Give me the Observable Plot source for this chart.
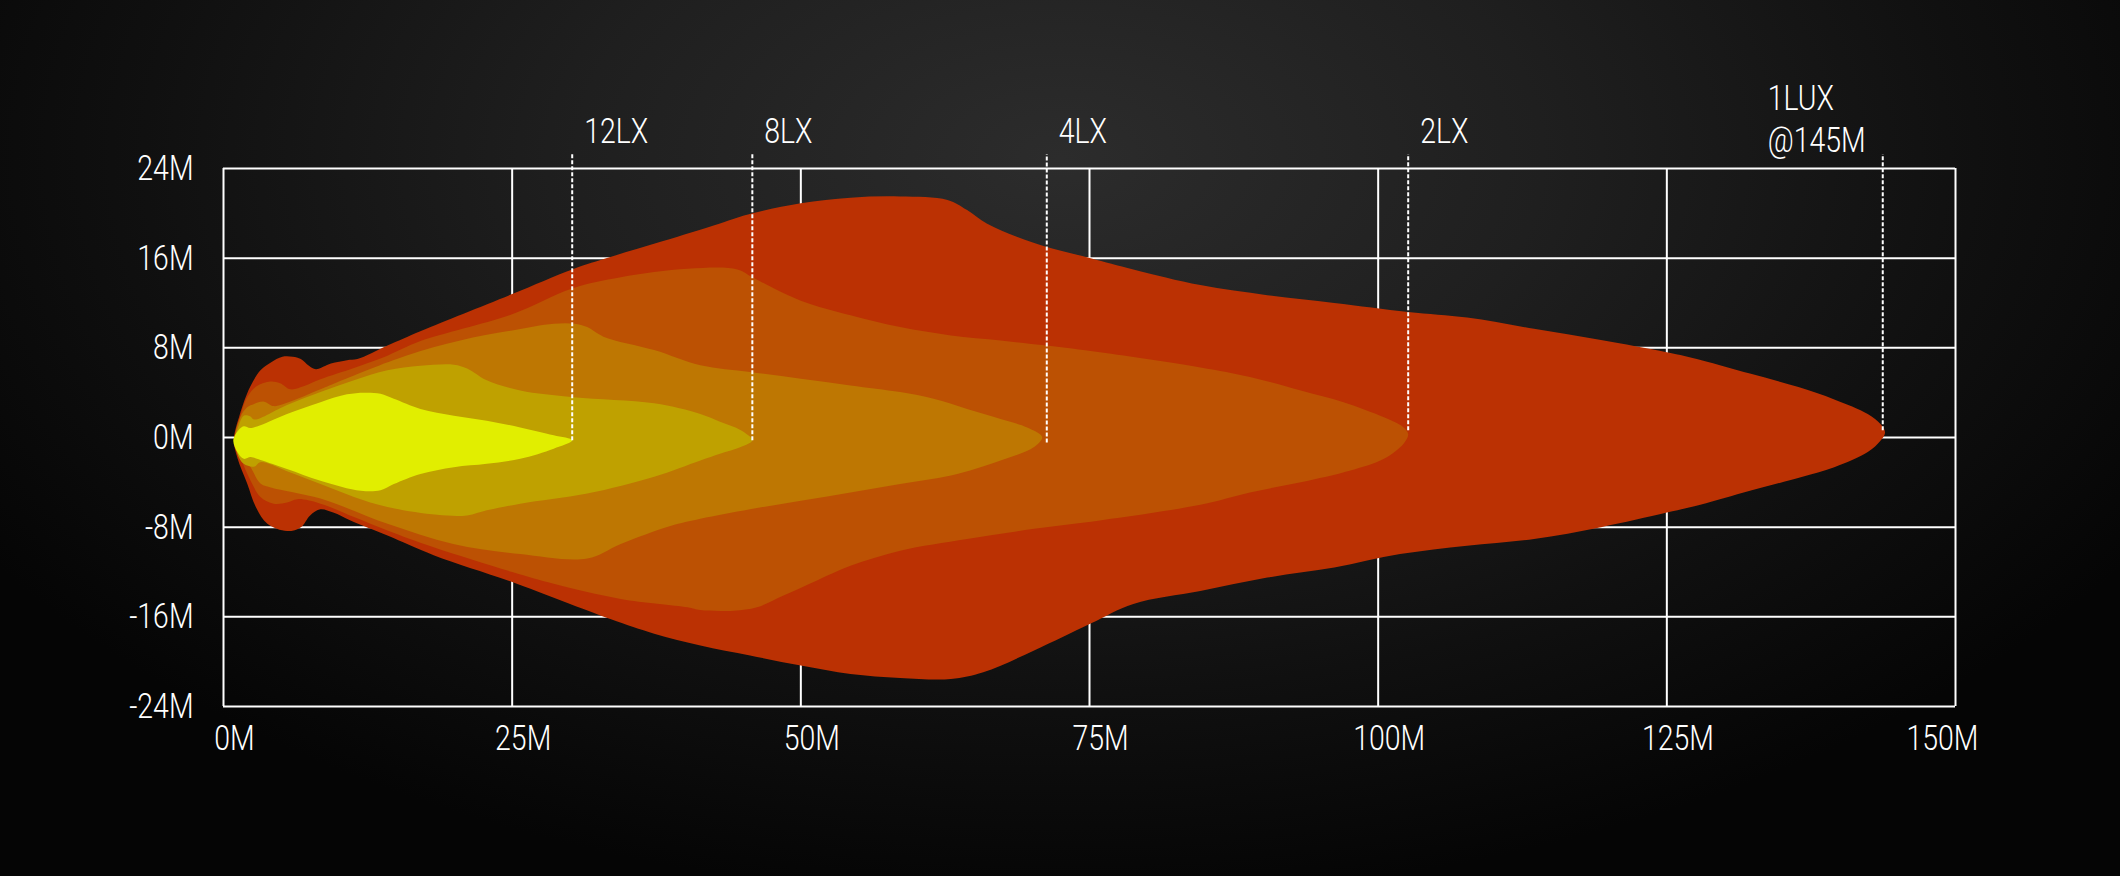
<!DOCTYPE html>
<html><head><meta charset="utf-8">
<script src="https://cdn.jsdelivr.net/npm/d3@7"></script>
<script src="https://cdn.jsdelivr.net/npm/@observablehq/plot@0.6"></script>
<style>
html,body{margin:0;padding:0;width:2120px;height:876px;overflow:hidden;
background: radial-gradient(ellipse 60% 85% at 50% 18%, #2c2c2c 0%, #1f1f1f 38%, #101010 72%, #050505 100%);}
#chart svg{display:block}
</style></head><body><div id="chart"></div>
<script>
// axis ticks (metres)
const xTicks = [0, 25, 50, 75, 100, 125, 150];
const yTicks = [-24, -16, -8, 0, 8, 16, 24];

// isolux level markers
const levelLabels = ["12LX", "8LX", "4LX", "2LX"];
const levelReach  = [30.2, 45.8, 71.3, 102.6];
const levelTipY   = [-0.3, -0.3, -0.5, 0.6];
const maxLabel = "1LUX\n@145M";
const maxReach = 143.7;
const maxTipY = 0.6;
const dashTop = 25.25;

// contour outlines [distance M, lateral M]
const beam1lx = [[0.9,-0.2],[1.4,2.0],[2.3,4.5],[3.2,6.0],[4.1,6.7],[5.1,7.2],[6.0,7.2],[6.7,7.0],[7.4,6.4],[8.0,6.1],[9.3,6.6],[10.7,6.9],[11.6,7.0],[14.2,8.2],[17.1,9.5],[25.0,12.8],[30.2,15.0],[33.5,16.1],[38.0,17.5],[43.0,19.1],[45.8,20.0],[50.0,20.9],[54.3,21.4],[58.6,21.5],[62.7,21.2],[64.4,20.3],[66.1,19.1],[68.7,17.9],[71.3,17.0],[75.1,16.0],[78.8,15.0],[84.6,13.6],[90.4,12.7],[96.2,12.0],[102.6,11.2],[107.7,10.7],[113.5,9.7],[119.3,8.7],[125.0,7.6],[128.0,6.9],[132.2,5.7],[136.4,4.5],[139.5,3.4],[142.4,2.1],[143.5,1.2],[143.9,0.45],[143.5,-0.3],[142.4,-1.3],[139.5,-2.65],[136.6,-3.55],[132.2,-4.75],[127.9,-6.0],[125.0,-6.7],[119.3,-8.0],[113.5,-9.05],[107.7,-9.65],[101.9,-10.4],[96.2,-11.6],[90.4,-12.5],[84.6,-13.7],[78.8,-14.85],[75.1,-16.6],[70.2,-19.0],[65.8,-20.95],[63.0,-21.55],[58.6,-21.45],[54.3,-21.1],[50.0,-20.35],[45.6,-19.45],[41.3,-18.55],[37.3,-17.5],[33.5,-16.2],[25.0,-12.9],[18.2,-10.5],[14.2,-8.75],[11.0,-7.4],[9.5,-6.7],[8.4,-6.4],[7.5,-6.95],[6.7,-8.0],[5.5,-8.35],[3.8,-7.7],[2.8,-6.2],[2.05,-4.1],[1.2,-1.8]];
const beam2lx = [[0.95,-0.2],[1.35,1.5],[2.05,3.6],[2.9,4.6],[4.05,5.0],[4.9,4.85],[5.8,4.3],[7.0,4.6],[8.4,5.2],[11.3,6.2],[14.2,7.3],[17.06,8.6],[25.0,11.0],[30.2,13.3],[34.4,14.3],[40.2,15.05],[44.5,15.0],[45.8,14.3],[47.1,13.6],[50.0,12.2],[54.3,10.9],[58.6,9.85],[63.0,9.1],[67.3,8.65],[71.3,8.2],[75.9,7.6],[84.6,6.25],[88.9,5.4],[93.3,4.2],[97.0,3.15],[100.5,1.8],[102.2,0.9],[102.6,0.3],[102.2,-0.55],[100.5,-1.9],[97.6,-2.95],[93.3,-4.0],[88.9,-4.9],[84.6,-6.0],[75.9,-7.4],[70.2,-8.15],[64.4,-9.05],[58.6,-10.1],[54.3,-11.45],[51.4,-12.75],[48.5,-14.1],[46.2,-15.15],[44.2,-15.45],[41.3,-15.4],[40.2,-15.15],[34.4,-14.4],[28.6,-13.05],[25.0,-12.0],[18.2,-9.8],[14.2,-8.3],[11.3,-7.1],[8.4,-5.9],[6.4,-5.5],[5.5,-5.8],[4.35,-5.9],[3.2,-5.3],[2.35,-3.85],[1.45,-1.75]];
const beam4lx = [[1.0,-0.2],[1.45,1.8],[2.05,2.7],[2.65,3.0],[3.5,3.2],[4.35,2.8],[5.5,3.1],[8.4,4.3],[10.0,5.0],[15.8,7.3],[20.5,8.66],[25.0,9.55],[28.6,10.15],[30.4,10.15],[31.5,9.85],[32.9,9.0],[37.3,7.8],[41.3,6.45],[45.6,5.85],[50.0,5.25],[54.3,4.65],[58.6,4.05],[61.5,3.45],[64.4,2.55],[67.3,1.65],[69.6,0.9],[70.9,0.05],[70.2,-0.85],[67.3,-2.05],[63.0,-3.4],[58.6,-4.15],[54.3,-4.9],[50.0,-5.65],[45.6,-6.4],[41.3,-7.25],[38.7,-7.9],[34.4,-9.5],[31.5,-10.8],[25.7,-10.4],[19.9,-9.5],[14.2,-7.7],[8.4,-5.45],[4.1,-4.45],[3.2,-4.1],[2.35,-2.65],[1.45,-1.3]];
const beam8lx = [[1.0,-0.2],[1.3,1.0],[1.75,1.95],[2.3,1.9],[2.65,1.6],[5.5,2.9],[8.4,4.05],[11.3,5.1],[14.2,6.0],[17.06,6.4],[19.95,6.5],[21.1,6.15],[22.8,5.1],[25.7,4.2],[30.3,3.6],[37.3,3.05],[41.3,2.1],[43.0,1.4],[44.8,0.65],[45.8,-0.25],[44.8,-0.85],[43.0,-1.45],[41.3,-2.05],[37.3,-3.5],[31.5,-5.0],[25.7,-5.9],[22.8,-6.5],[21.1,-6.95],[18.5,-6.9],[14.2,-6.2],[11.3,-5.3],[8.4,-4.15],[5.5,-3.0],[3.2,-2.2],[2.65,-2.6],[1.75,-2.35],[1.2,-1.45]];
const beam12lx = [[0.85,-0.25],[1.3,0.65],[1.75,1.0],[2.3,0.85],[3.2,1.1],[5.5,2.1],[8.4,3.15],[10.7,3.85],[12.2,4.0],[13.6,3.9],[14.75,3.45],[17.06,2.55],[19.95,1.95],[22.8,1.5],[25.7,0.9],[28.6,0.2],[30.2,-0.25],[28.6,-1.0],[25.7,-1.9],[22.8,-2.35],[19.95,-2.65],[17.06,-3.25],[14.75,-4.15],[13.6,-4.7],[11.9,-4.75],[8.4,-3.85],[5.5,-2.8],[3.2,-2.0],[2.35,-1.75],[1.75,-1.9],[1.2,-1.3]];

const font = "Roboto, 'Liberation Sans', sans-serif";
const levels = levelLabels.map((label, i) => ({label, reach: levelReach[i], tip: levelTipY[i]}));

const shape = (pts, color) => Plot.line(pts, {x: d => d[0], y: d => d[1], curve: "catmull-rom-closed", fill: color, stroke: "none"});
const txt = {fill: "white", fontSize: 36, fontFamily: font, fontWeight: 300};

const chart = Plot.plot({
  width: 2120, height: 876,
  marginLeft: 223, marginRight: 165, marginTop: 168, marginBottom: 170,
  style: {background: "transparent", color: "white", fontFamily: font, fontWeight: 300},
  x: {domain: [0, 150], label: null},
  y: {domain: [-24, 24], label: null},
  marks: [
    Plot.gridX(xTicks, {stroke: "white", strokeOpacity: 1, strokeWidth: 2}),
    Plot.gridY(yTicks, {stroke: "white", strokeOpacity: 1, strokeWidth: 2}),
    shape(beam1lx, "#bb3103"),
    shape(beam2lx, "#bc5103"),
    shape(beam4lx, "#be7702"),
    shape(beam8lx, "#bfa100"),
    shape(beam12lx, "#e1ee00"),
    Plot.ruleX(levels, {x: "reach", y1: "tip", y2: dashTop, stroke: "white", strokeWidth: 2, strokeDasharray: "4,2"}),
    Plot.ruleX([maxReach], {y1: maxTipY, y2: dashTop, stroke: "white", strokeWidth: 2, strokeDasharray: "4,2"}),
    Plot.text(levels, {x: "reach", y: 24, text: "label", dy: -25.5, dx: 12, textAnchor: "start", lineAnchor: "bottom", ...txt}),
    Plot.text([maxLabel], {x: maxReach, y: 24, text: d => d, dy: -16.5, dx: -115, textAnchor: "start", lineAnchor: "bottom", lineHeight: 1.16, ...txt}),
    Plot.axisX(xTicks.filter(d => d < 150), {label: null, tickSize: 0, tickPadding: 18, tickFormat: d => `${d}M`, dx: 11, ...txt}),
    Plot.axisX([150], {label: null, tickSize: 0, tickPadding: 18, tickFormat: d => `${d}M`, dx: -13, ...txt}),
    Plot.axisY(yTicks, {label: null, tickSize: 0, tickPadding: 30, tickFormat: d => `${d}M`, ...txt})
  ]
});
// condense the glyphs horizontally around each text's own anchor point
chart.querySelectorAll("text").forEach(t => {
  const tr = t.getAttribute("transform") || "";
  t.setAttribute("transform", `${tr} scale(0.79,1)`);
});
document.getElementById("chart").appendChild(chart);
</script></body></html>
